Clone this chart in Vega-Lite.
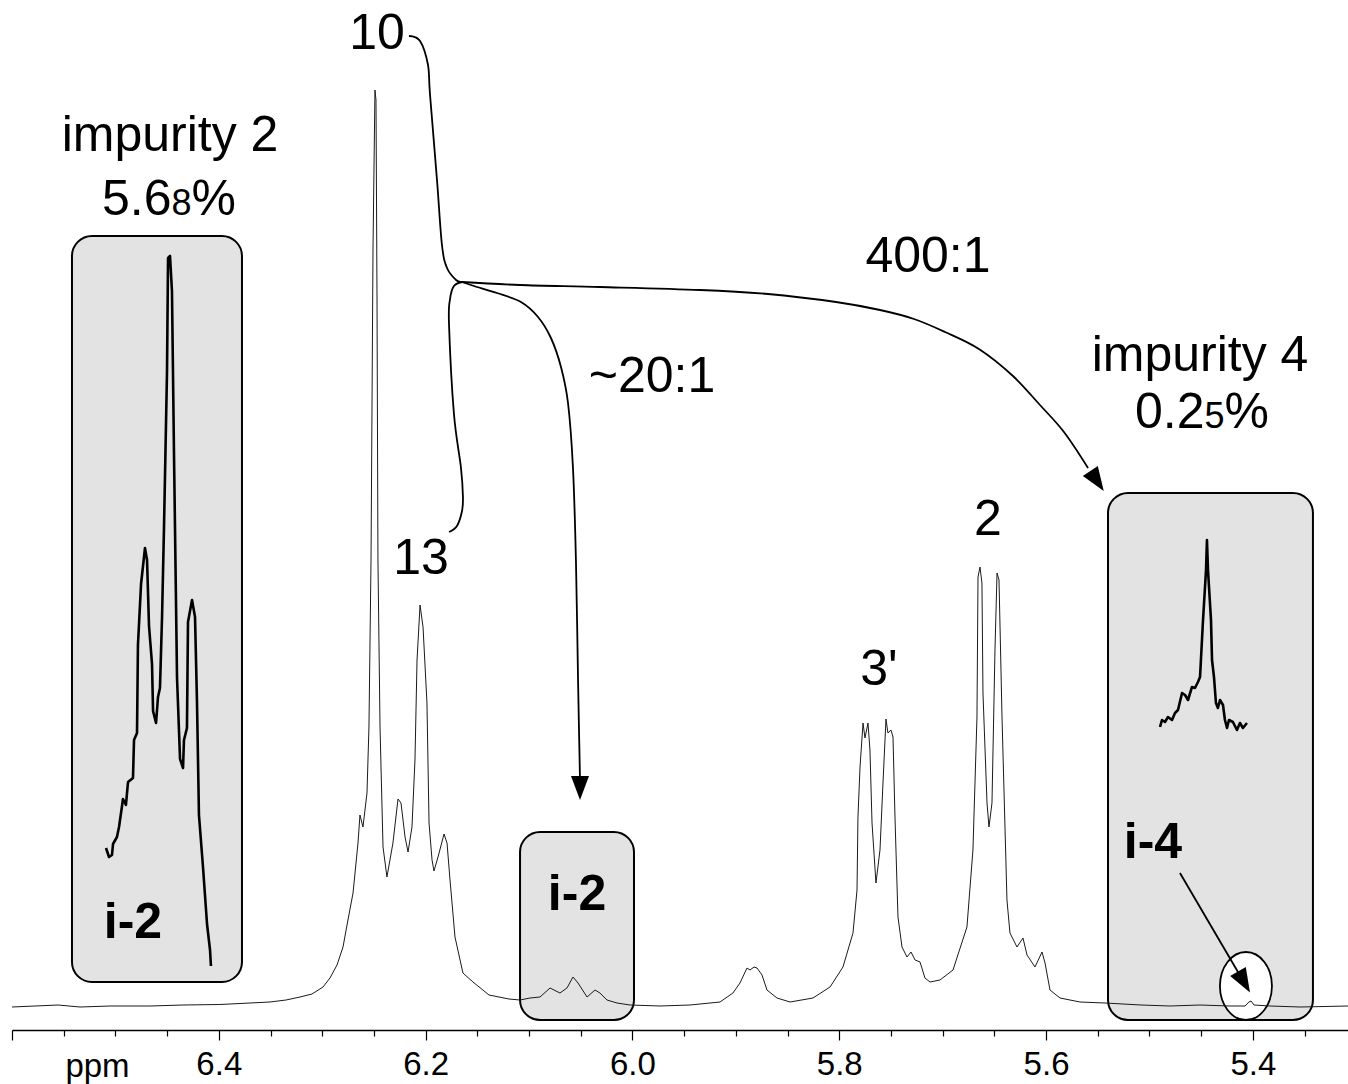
{
  "$schema": "https://vega.github.io/schema/vega-lite/v6.json",
  "width": 1336,
  "height": 1030,
  "autosize": {"type": "none"},
  "padding": {"left": 12, "top": 0, "right": 0, "bottom": 54},
  "background": "white",
  "config": {"view": {"stroke": null}, "font": "Liberation Sans"},
  "datasets": {
    "spectrum": [
      {"ppm":6.6,"intensity":-0.1},{"ppm":6.5778,"intensity":0},{"ppm":6.5555,"intensity":0.1},{"ppm":6.5342,"intensity":-0.1},{"ppm":6.5052,"intensity":0},{"ppm":6.4665,"intensity":0},{"ppm":6.4346,"intensity":0.1},{"ppm":6.399,"intensity":0.15},{"ppm":6.3698,"intensity":0.3},{"ppm":6.3505,"intensity":0.4},{"ppm":6.335,"intensity":0.6},{"ppm":6.3215,"intensity":0.9},{"ppm":6.3099,"intensity":1.2},{"ppm":6.2992,"intensity":1.9},{"ppm":6.2925,"intensity":2.8},{"ppm":6.2857,"intensity":4.1},{"ppm":6.2799,"intensity":5.9},{"ppm":6.2751,"intensity":8.6},{"ppm":6.2702,"intensity":11.3},{"ppm":6.2654,"intensity":16.3},{"ppm":6.2635,"intensity":19.1},{"ppm":6.2606,"intensity":17.9},{"ppm":6.2567,"intensity":21.3},{"ppm":6.2548,"intensity":27.9},{"ppm":6.2528,"intensity":44.6},{"ppm":6.2509,"intensity":75.6},{"ppm":6.249,"intensity":91.6},{"ppm":6.248,"intensity":90.6},{"ppm":6.247,"intensity":70.6},{"ppm":6.2461,"intensity":44.6},{"ppm":6.2441,"intensity":27.9},{"ppm":6.2412,"intensity":15.9},{"ppm":6.2374,"intensity":12.9},{"ppm":6.2316,"intensity":16.3},{"ppm":6.2267,"intensity":20.7},{"ppm":6.2238,"intensity":20.3},{"ppm":6.2199,"intensity":16.9},{"ppm":6.217,"intensity":15.4},{"ppm":6.2132,"intensity":17.9},{"ppm":6.2103,"intensity":24.6},{"ppm":6.2083,"intensity":34.6},{"ppm":6.2054,"intensity":40.1},{"ppm":6.2025,"intensity":37.9},{"ppm":6.1987,"intensity":30.3},{"ppm":6.1967,"intensity":18.3},{"ppm":6.1938,"intensity":14.6},{"ppm":6.1919,"intensity":13.5},{"ppm":6.188,"intensity":14.9},{"ppm":6.1822,"intensity":17.2},{"ppm":6.1793,"intensity":16.3},{"ppm":6.1764,"intensity":12.6},{"ppm":6.1716,"intensity":6.9},{"ppm":6.1639,"intensity":3.3},{"ppm":6.1542,"intensity":2.4},{"ppm":6.1387,"intensity":1.1},{"ppm":6.1194,"intensity":0.7},{"ppm":6.1087,"intensity":0.6},{"ppm":6.0991,"intensity":0.8},{"ppm":6.0894,"intensity":0.9},{"ppm":6.0797,"intensity":1.8},{"ppm":6.0701,"intensity":1.3},{"ppm":6.0633,"intensity":1.8},{"ppm":6.0575,"intensity":2.9},{"ppm":6.0526,"intensity":2.3},{"ppm":6.0439,"intensity":0.9},{"ppm":6.0362,"intensity":1.6},{"ppm":6.0314,"intensity":1.3},{"ppm":6.0246,"intensity":0.6},{"ppm":6.0149,"intensity":0.3},{"ppm":6.0024,"intensity":0.1},{"ppm":5.9733,"intensity":0},{"ppm":5.9443,"intensity":0.1},{"ppm":5.9153,"intensity":0.4},{"ppm":5.9028,"intensity":1.3},{"ppm":5.896,"intensity":2.3},{"ppm":5.8892,"intensity":3.8},{"ppm":5.8863,"intensity":3.6},{"ppm":5.8824,"intensity":3.9},{"ppm":5.8795,"intensity":3.8},{"ppm":5.8747,"intensity":3.1},{"ppm":5.8699,"intensity":1.6},{"ppm":5.8602,"intensity":0.8},{"ppm":5.8476,"intensity":0.4},{"ppm":5.8254,"intensity":0.8},{"ppm":5.8089,"intensity":1.9},{"ppm":5.7964,"intensity":3.9},{"ppm":5.7867,"intensity":7.3},{"ppm":5.7828,"intensity":11.6},{"ppm":5.7819,"intensity":18.9},{"ppm":5.7799,"intensity":23.9},{"ppm":5.777,"intensity":28.3},{"ppm":5.7751,"intensity":26.8},{"ppm":5.7722,"intensity":28.3},{"ppm":5.7703,"intensity":25.6},{"ppm":5.7683,"intensity":18.3},{"ppm":5.7645,"intensity":12.3},{"ppm":5.7606,"intensity":15.6},{"ppm":5.7577,"intensity":22.3},{"ppm":5.7548,"intensity":28.7},{"ppm":5.7529,"intensity":27.3},{"ppm":5.75,"intensity":27.6},{"ppm":5.748,"intensity":26.9},{"ppm":5.7461,"intensity":18.9},{"ppm":5.7432,"intensity":8.9},{"ppm":5.7393,"intensity":5.9},{"ppm":5.7345,"intensity":4.9},{"ppm":5.7306,"intensity":5.4},{"ppm":5.7267,"intensity":4.6},{"ppm":5.7219,"intensity":4.4},{"ppm":5.7171,"intensity":2.8},{"ppm":5.7122,"intensity":2.4},{"ppm":5.7026,"intensity":2.6},{"ppm":5.69,"intensity":3.6},{"ppm":5.6765,"intensity":7.9},{"ppm":5.6707,"intensity":15.6},{"ppm":5.6668,"intensity":28.9},{"ppm":5.6658,"intensity":42.9},{"ppm":5.6639,"intensity":43.9},{"ppm":5.662,"intensity":42.3},{"ppm":5.661,"intensity":31.3},{"ppm":5.6571,"intensity":20.3},{"ppm":5.6552,"intensity":17.9},{"ppm":5.6523,"intensity":20.3},{"ppm":5.6494,"intensity":35.6},{"ppm":5.6474,"intensity":43.3},{"ppm":5.6455,"intensity":42.6},{"ppm":5.6426,"intensity":28.9},{"ppm":5.6378,"intensity":10.6},{"ppm":5.6349,"intensity":7.3},{"ppm":5.6281,"intensity":5.9},{"ppm":5.6223,"intensity":6.8},{"ppm":5.6184,"intensity":5.1},{"ppm":5.6107,"intensity":3.9},{"ppm":5.6039,"intensity":5.4},{"ppm":5.601,"intensity":4.3},{"ppm":5.5962,"intensity":1.6},{"ppm":5.5865,"intensity":0.8},{"ppm":5.5672,"intensity":0.4},{"ppm":5.543,"intensity":0.3},{"ppm":5.5082,"intensity":0.1},{"ppm":5.4802,"intensity":0},{"ppm":5.4511,"intensity":0.1},{"ppm":5.4221,"intensity":0},{"ppm":5.4076,"intensity":0},{"ppm":5.4038,"intensity":0.4},{"ppm":5.4018,"intensity":0.5},{"ppm":5.3989,"intensity":0.1},{"ppm":5.3834,"intensity":0},{"ppm":5.3544,"intensity":-0.1},{"ppm":5.308,"intensity":0}
    ],
    "insets": [
      {"name":"i2","ppm":6.5091,"intensity":15.8},{"name":"i2","ppm":6.5062,"intensity":14.9},{"name":"i2","ppm":6.5033,"intensity":15.1},{"name":"i2","ppm":6.5023,"intensity":16.2},{"name":"i2","ppm":6.4985,"intensity":16.9},{"name":"i2","ppm":6.4965,"intensity":17.9},{"name":"i2","ppm":6.4936,"intensity":20.0},{"name":"i2","ppm":6.4927,"intensity":20.7},{"name":"i2","ppm":6.4898,"intensity":20.1},{"name":"i2","ppm":6.4878,"intensity":22.4},{"name":"i2","ppm":6.483,"intensity":22.8},{"name":"i2","ppm":6.482,"intensity":26.6},{"name":"i2","ppm":6.4791,"intensity":27.3},{"name":"i2","ppm":6.4782,"intensity":36.1},{"name":"i2","ppm":6.4752,"intensity":42.2},{"name":"i2","ppm":6.4714,"intensity":45.8},{"name":"i2","ppm":6.4694,"intensity":44.6},{"name":"i2","ppm":6.4675,"intensity":38.0},{"name":"i2","ppm":6.4646,"intensity":34.2},{"name":"i2","ppm":6.4636,"intensity":29.5},{"name":"i2","ppm":6.4607,"intensity":28.3},{"name":"i2","ppm":6.4588,"intensity":30.9},{"name":"i2","ppm":6.4569,"intensity":31.8},{"name":"i2","ppm":6.4549,"intensity":38.9},{"name":"i2","ppm":6.453,"intensity":47.9},{"name":"i2","ppm":6.4501,"intensity":63.4},{"name":"i2","ppm":6.4491,"intensity":74.8},{"name":"i2","ppm":6.4472,"intensity":75.0},{"name":"i2","ppm":6.4453,"intensity":71.5},{"name":"i2","ppm":6.4433,"intensity":54.9},{"name":"i2","ppm":6.4404,"intensity":32.8},{"name":"i2","ppm":6.4375,"intensity":24.7},{"name":"i2","ppm":6.4346,"intensity":23.8},{"name":"i2","ppm":6.4337,"intensity":26.6},{"name":"i2","ppm":6.4308,"intensity":27.8},{"name":"i2","ppm":6.4298,"intensity":38.4},{"name":"i2","ppm":6.4259,"intensity":40.6},{"name":"i2","ppm":6.423,"intensity":38.9},{"name":"i2","ppm":6.4211,"intensity":30.4},{"name":"i2","ppm":6.4192,"intensity":19.1},{"name":"i2","ppm":6.4153,"intensity":13.9},{"name":"i2","ppm":6.4114,"intensity":8.2},{"name":"i2","ppm":6.4085,"intensity":5.6},{"name":"i2","ppm":6.4076,"intensity":4.0},
      {"name":"i4","ppm":5.4898,"intensity":27.9},{"name":"i4","ppm":5.4879,"intensity":28.6},{"name":"i4","ppm":5.485,"intensity":28.4},{"name":"i4","ppm":5.4821,"intensity":28.9},{"name":"i4","ppm":5.4782,"intensity":28.6},{"name":"i4","ppm":5.4753,"intensity":29.3},{"name":"i4","ppm":5.4724,"intensity":29.6},{"name":"i4","ppm":5.4685,"intensity":31.3},{"name":"i4","ppm":5.4656,"intensity":31.1},{"name":"i4","ppm":5.4627,"intensity":30.6},{"name":"i4","ppm":5.4589,"intensity":31.9},{"name":"i4","ppm":5.456,"intensity":31.8},{"name":"i4","ppm":5.4531,"intensity":32.4},{"name":"i4","ppm":5.4511,"intensity":32.9},{"name":"i4","ppm":5.4482,"intensity":38.6},{"name":"i4","ppm":5.4453,"intensity":43.6},{"name":"i4","ppm":5.4444,"intensity":46.6},{"name":"i4","ppm":5.4434,"intensity":43.6},{"name":"i4","ppm":5.4405,"intensity":38.6},{"name":"i4","ppm":5.4395,"intensity":34.6},{"name":"i4","ppm":5.4376,"intensity":32.9},{"name":"i4","ppm":5.4357,"intensity":30.3},{"name":"i4","ppm":5.4338,"intensity":29.8},{"name":"i4","ppm":5.4318,"intensity":30.6},{"name":"i4","ppm":5.4289,"intensity":30.1},{"name":"i4","ppm":5.427,"intensity":28.6},{"name":"i4","ppm":5.425,"intensity":27.8},{"name":"i4","ppm":5.4231,"intensity":28.6},{"name":"i4","ppm":5.4193,"intensity":28.4},{"name":"i4","ppm":5.4154,"intensity":27.6},{"name":"i4","ppm":5.4125,"intensity":28.3},{"name":"i4","ppm":5.4096,"intensity":27.8},{"name":"i4","ppm":5.4057,"intensity":28.3}
    ],
    "connectors": [
      {"name":"brace10","ppm":6.2161,"intensity":97.0},{"name":"brace10","ppm":6.2054,"intensity":96.5},{"name":"brace10","ppm":6.1977,"intensity":94.1},{"name":"brace10","ppm":6.1958,"intensity":91.2},{"name":"brace10","ppm":6.189,"intensity":82.6},{"name":"brace10","ppm":6.1842,"intensity":76.1},{"name":"brace10","ppm":6.1793,"intensity":73.8},{"name":"brace10","ppm":6.1706,"intensity":72.6},{"name":"brace10","ppm":6.1648,"intensity":72.4},
      {"name":"brace13","ppm":6.1648,"intensity":72.4},{"name":"brace13","ppm":6.1726,"intensity":72.0},{"name":"brace13","ppm":6.1764,"intensity":70.7},{"name":"brace13","ppm":6.1774,"intensity":68.2},{"name":"brace13","ppm":6.1726,"intensity":59.2},{"name":"brace13","ppm":6.1658,"intensity":53.8},{"name":"brace13","ppm":6.1639,"intensity":50.9},{"name":"brace13","ppm":6.1648,"intensity":49.5},{"name":"brace13","ppm":6.1697,"intensity":48.0},{"name":"brace13","ppm":6.1774,"intensity":47.4},
      {"name":"arrow400","ppm":6.1648,"intensity":72.4},{"name":"arrow400","ppm":6.1087,"intensity":72.1},{"name":"arrow400","ppm":6.0314,"intensity":71.9},{"name":"arrow400","ppm":5.9347,"intensity":71.6},{"name":"arrow400","ppm":5.8689,"intensity":71.2},{"name":"arrow400","ppm":5.8031,"intensity":70.4},{"name":"arrow400","ppm":5.7606,"intensity":69.6},{"name":"arrow400","ppm":5.7277,"intensity":68.7},{"name":"arrow400","ppm":5.6977,"intensity":67.4},{"name":"arrow400","ppm":5.6649,"intensity":65.7},{"name":"arrow400","ppm":5.632,"intensity":63.0},{"name":"arrow400","ppm":5.6059,"intensity":60.1},{"name":"arrow400","ppm":5.5827,"intensity":57.4},{"name":"arrow400","ppm":5.5594,"intensity":53.8},
      {"name":"arrow20","ppm":6.1648,"intensity":72.4},{"name":"arrow20","ppm":6.1532,"intensity":72.0},{"name":"arrow20","ppm":6.131,"intensity":71.3},{"name":"arrow20","ppm":6.1078,"intensity":70.4},{"name":"arrow20","ppm":6.0913,"intensity":68.9},{"name":"arrow20","ppm":6.0788,"intensity":66.8},{"name":"arrow20","ppm":6.0691,"intensity":63.9},{"name":"arrow20","ppm":6.0623,"intensity":60.3},{"name":"arrow20","ppm":6.0575,"intensity":53.8},{"name":"arrow20","ppm":6.0546,"intensity":44.4},{"name":"arrow20","ppm":6.0526,"intensity":32.6},{"name":"arrow20","ppm":6.0507,"intensity":22.6},
      {"name":"arrowi4","ppm":5.4705,"intensity":13.3},{"name":"arrowi4","ppm":5.4144,"intensity":3.4}
    ],
    "arrowheads": [
      {"name":"a400","ppm":5.5507,"intensity":52.5},
      {"name":"a20","ppm":6.0507,"intensity":21.8},
      {"name":"ai4","ppm":5.4086,"intensity":2.4}
    ],
    "boxes": [
      {"ppm":6.542,"ppm2":6.3776,"intensity":77.0,"intensity2":2.4},
      {"ppm":6.1087,"ppm2":5.9985,"intensity":17.4,"intensity2":-1.4},
      {"ppm":5.5401,"ppm2":5.3419,"intensity":51.3,"intensity2":-1.4}
    ],
    "circle": [{"ppm":5.4067,"intensity":2.0}],
    "labels": [
      {"label":"10","ppm":6.247,"intensity":95.7},
      {"label":"13","ppm":6.2045,"intensity":43.2},
      {"label":"3'","ppm":5.7616,"intensity":32.1},
      {"label":"2","ppm":5.6562,"intensity":47.1},
      {"label":"~20:1","ppm":5.9811,"intensity":61.4},
      {"label":"400:1","ppm":5.7142,"intensity":73.4},
      {"label":"impurity 2","ppm":6.4472,"intensity":85.5},
      {"label":"impurity 4","ppm":5.4511,"intensity":63.5}
    ],
    "boldLabels": [
      {"label":"i-2","ppm":6.483,"intensity":6.8},
      {"label":"i-2","ppm":6.0536,"intensity":9.6},
      {"label":"i-4","ppm":5.4966,"intensity":14.8}
    ],
    "pieces": [
      {"label":"5.6","ppm":6.513,"intensity":79.1},
      {"label":"%","ppm":6.4264,"intensity":79.1},
      {"label":"0.2","ppm":5.514,"intensity":57.8},
      {"label":"%","ppm":5.4275,"intensity":57.8}
    ],
    "smallPieces": [
      {"label":"8","ppm":6.4458,"intensity":79.1},
      {"label":"5","ppm":5.4468,"intensity":57.8}
    ]
  },
  "encoding": {
    "x": {
      "field": "ppm",
      "type": "quantitative",
      "scale": {"domain": [6.6, 5.308], "nice": false, "zero": false},
      "axis": {
        "values": [6.6,6.55,6.5,6.45,6.4,6.35,6.3,6.25,6.2,6.15,6.1,6.05,6.0,5.95,5.9,5.85,5.8,5.75,5.7,5.65,5.6,5.55,5.5,5.45,5.4,5.35],
        "labelExpr": "abs(datum.value*5 - round(datum.value*5)) < 0.001 && datum.value < 6.5 ? format(datum.value, '.1f') : ''",
        "tickSize": {"condition": {"test": "abs(datum.value*5 - round(datum.value*5)) < 0.001", "value": 10}, "value": 6},
        "labelPadding": 8,
        "labelFontSize": 33,
        "labelFont": "Liberation Sans",
        "labelColor": "black",
        "labelOverlap": false,
        "labelBound": false,
        "labelFlush": false,
        "domainColor": "black",
        "domainWidth": 1.5,
        "tickColor": "black",
        "tickWidth": 1.2,
        "grid": false,
        "title": "ppm",
        "titleX": 85,
        "titleY": 36,
        "titleAlign": "center",
        "titleBaseline": "middle",
        "titleFontSize": 33,
        "titleFontWeight": "normal",
        "titleFont": "Liberation Sans",
        "titleColor": "black"
      }
    },
    "y": {
      "field": "intensity",
      "type": "quantitative",
      "scale": {"domain": [-2.4, 100.6], "nice": false, "zero": false},
      "axis": null
    }
  },
  "layer": [
    {
      "data": {"name": "boxes"},
      "mark": {"type": "rect", "fill": "#e3e3e3", "stroke": "black", "strokeWidth": 2, "cornerRadius": 20},
      "encoding": {"x2": {"field": "ppm2"}, "y2": {"field": "intensity2"}}
    },
    {
      "data": {"name": "circle"},
      "mark": {"type": "point", "shape": "M -0.765 0 A 0.765 1 0 1 1 0.765 0 A 0.765 1 0 1 1 -0.765 0 Z", "size": 4624, "filled": true, "fill": "white", "stroke": "black", "strokeWidth": 1.8, "opacity": 1}
    },
    {
      "data": {"name": "spectrum"},
      "mark": {"type": "line", "color": "#1a1a1a", "strokeWidth": 1},
      "encoding": {}
    },
    {
      "data": {"name": "insets"},
      "mark": {"type": "line", "color": "black", "strokeWidth": 2.6, "strokeJoin": "round"},
      "encoding": {"detail": {"field": "name"}, "order": {"value": null}}
    },
    {
      "data": {"name": "connectors"},
      "mark": {"type": "line", "color": "black", "strokeWidth": 1.8, "interpolate": "cardinal"},
      "encoding": {"detail": {"field": "name"}, "order": {"value": null}}
    },
    {
      "data": {"name": "arrowheads"},
      "transform": [{"filter": "datum.name == 'a400'"}],
      "mark": {"type": "point", "shape": "M 0 1 L -0.75 -1 L 0.75 -1 Z", "size": 576, "filled": true, "color": "black", "opacity": 1, "angle": -34}
    },
    {
      "data": {"name": "arrowheads"},
      "transform": [{"filter": "datum.name == 'a20'"}],
      "mark": {"type": "point", "shape": "M 0 1 L -0.75 -1 L 0.75 -1 Z", "size": 576, "filled": true, "color": "black", "opacity": 1, "angle": 0}
    },
    {
      "data": {"name": "arrowheads"},
      "transform": [{"filter": "datum.name == 'ai4'"}],
      "mark": {"type": "point", "shape": "M 0 1 L -0.75 -1 L 0.75 -1 Z", "size": 576, "filled": true, "color": "black", "opacity": 1, "angle": -30}
    },
    {
      "data": {"name": "labels"},
      "mark": {"type": "text", "font": "Liberation Sans", "fontSize": 50, "align": "center", "baseline": "alphabetic", "color": "black"},
      "encoding": {"text": {"field": "label"}}
    },
    {
      "data": {"name": "boldLabels"},
      "mark": {"type": "text", "font": "Liberation Sans", "fontSize": 50, "fontWeight": "bold", "align": "center", "baseline": "alphabetic", "color": "black"},
      "encoding": {"text": {"field": "label"}}
    },
    {
      "data": {"name": "pieces"},
      "mark": {"type": "text", "font": "Liberation Sans", "fontSize": 50, "align": "left", "baseline": "alphabetic", "color": "black"},
      "encoding": {"text": {"field": "label"}}
    },
    {
      "data": {"name": "smallPieces"},
      "mark": {"type": "text", "font": "Liberation Sans", "fontSize": 36, "align": "left", "baseline": "alphabetic", "color": "black"},
      "encoding": {"text": {"field": "label"}}
    }
  ]
}
